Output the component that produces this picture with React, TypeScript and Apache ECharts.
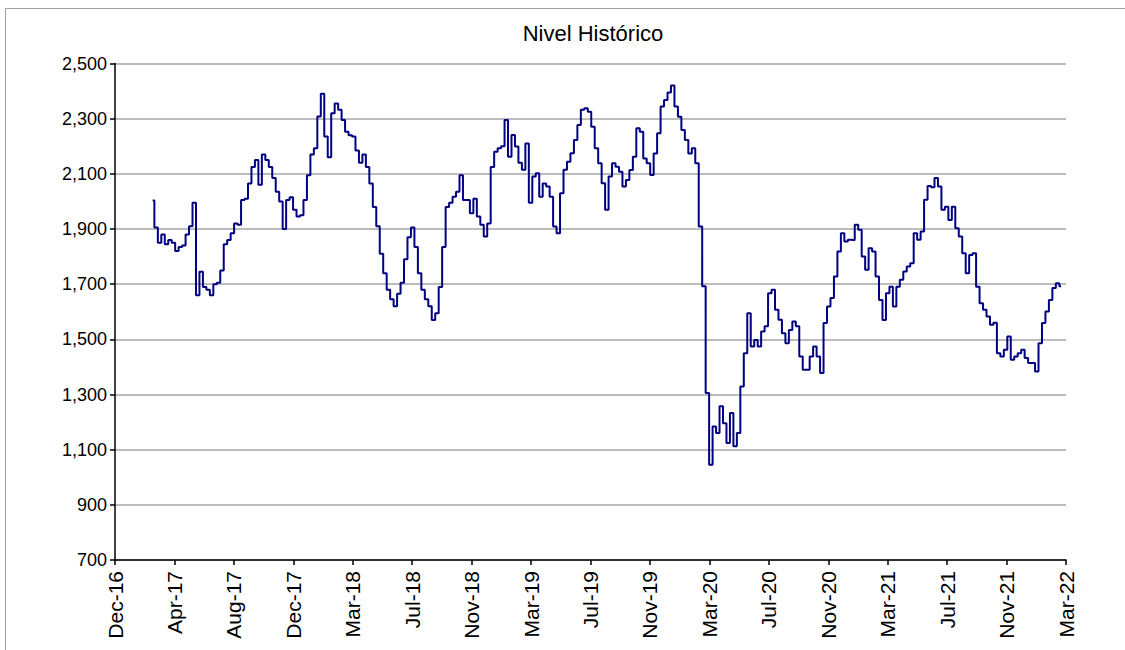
import React, { useEffect, useRef } from "react";
import * as echarts from "echarts";

const chartTitle = "Nivel Histórico";
const xTickLabels = [
  "Dec-16", "Apr-17", "Aug-17", "Dec-17", "Mar-18", "Jul-18", "Nov-18", "Mar-19", "Jul-19",
  "Nov-19", "Mar-20", "Jul-20", "Nov-20", "Mar-21", "Jul-21", "Nov-21", "Mar-22",
];
const daysPerTick = 120;
const yMin = 700;
const yMax = 2500;
const yStep = 200;
// weekly observations, first one 76 days after the Dec-16 axis start
const firstDay = 76;
const stepDays = 7;
const values = [
  2003, 1905, 1850, 1880, 1845, 1860, 1850, 1820, 1835, 1840, 1880, 1910, 1995, 1660, 1745, 1690,
  1680, 1660, 1700, 1705, 1750, 1845, 1860, 1885, 1920, 1915, 2005, 2010, 2065, 2125, 2150, 2060,
  2170, 2150, 2125, 2085, 2035, 2000, 1900, 2005, 2015, 1970, 1945, 1950, 2005, 2095, 2170, 2193,
  2308, 2390, 2235, 2160, 2320, 2355, 2332, 2295, 2253, 2240, 2235, 2185, 2140, 2170, 2125, 2065,
  1980, 1910, 1810, 1740, 1680, 1645, 1620, 1665, 1705, 1790, 1870, 1905, 1835, 1740, 1680, 1645,
  1620, 1570, 1595, 1690, 1835, 1980, 1995, 2017, 2035, 2095, 2005, 2005, 1957, 2010, 1945, 1915,
  1873, 1920, 2125, 2180, 2193, 2200, 2295, 2162, 2241, 2199, 2140, 2115, 2210, 1995, 2090, 2102,
  2017, 2065, 2054, 2017, 1909, 1885, 2030, 2115, 2144, 2175, 2223, 2277, 2332, 2338, 2325, 2271,
  2193, 2138, 2066, 1970, 2090, 2138, 2126, 2108, 2054, 2078, 2114, 2162, 2265, 2253, 2156, 2138,
  2096, 2174, 2247, 2344, 2368, 2395, 2420, 2344, 2307, 2259, 2223, 2174, 2193, 2138, 1909, 1692,
  1305, 1045, 1184, 1160, 1257, 1196, 1124, 1233, 1112, 1160, 1329, 1450, 1595, 1474, 1498, 1474,
  1528, 1547, 1667, 1680, 1607, 1571, 1522, 1486, 1534, 1565, 1547, 1438, 1390, 1390, 1438, 1474,
  1438, 1378, 1559, 1619, 1650, 1728, 1818, 1885, 1855, 1861, 1860, 1915, 1897, 1800, 1752, 1830,
  1818, 1728, 1643, 1570, 1667, 1691, 1619, 1691, 1716, 1746, 1764, 1776, 1885, 1861, 1891, 2006,
  2056, 2051, 2085, 2054, 1970, 1981, 1933, 1981, 1903, 1873, 1812, 1740, 1806, 1812, 1691, 1631,
  1607, 1583, 1553, 1560, 1450, 1438, 1462, 1510, 1426, 1438, 1450, 1462, 1432, 1414, 1414, 1383,
  1486, 1559, 1601, 1643, 1686, 1703, 1692,
];

const FONT = "'Liberation Sans', Arial, sans-serif";

export default function App() {
  const ref = useRef<HTMLDivElement>(null);
  useEffect(() => {
    const chart = echarts.init(ref.current as HTMLDivElement, null, { renderer: "svg" });
    const seriesData = values.map((v, i) => [firstDay + i * stepDays, v]);
    chart.setOption({
      animation: false,
      backgroundColor: "#ffffff",
      title: {
        text: chartTitle,
        left: 588,
        top: 17,
        textAlign: "center",
        textStyle: { fontSize: 22, fontWeight: "normal", color: "#000", fontFamily: FONT },
      },
      graphic: [
        {
          type: "rect",
          shape: { x: 5.5, y: 8.5, width: 1300, height: 800 },
          style: { fill: "none", stroke: "#a0a0a0", lineWidth: 1 },
          silent: true,
          z: -1,
        },
      ],
      grid: { left: 115, right: 59, top: 63.5, bottom: 90, containLabel: false },
      xAxis: {
        type: "value",
        min: 0,
        max: daysPerTick * (xTickLabels.length - 1),
        interval: daysPerTick,
        axisLine: { show: true, onZero: false, lineStyle: { color: "#000", width: 1.5 } },
        axisTick: { show: true, length: 5, lineStyle: { color: "#000", width: 1.5 } },
        splitLine: { show: false },
        axisLabel: {
          rotate: 90,
          margin: 11,
          fontSize: 21,
          color: "#000",
          fontFamily: FONT,
          showMinLabel: true,
          showMaxLabel: true,
          formatter: (v: number) => xTickLabels[Math.round(v / daysPerTick)] ?? "",
        },
      },
      yAxis: {
        type: "value",
        min: yMin,
        max: yMax,
        interval: yStep,
        axisLine: { show: true, lineStyle: { color: "#000", width: 1.5 } },
        axisTick: { show: true, length: 5, lineStyle: { color: "#000", width: 1.5 } },
        splitLine: { show: true, lineStyle: { color: "#a6a6a6", width: 1.5 } },
        axisLabel: {
          margin: 8,
          fontSize: 18,
          color: "#000",
          fontFamily: FONT,
          formatter: (v: number) => v.toLocaleString("en-US"),
        },
      },
      series: [
        {
          type: "line",
          data: seriesData,
          showSymbol: false,
          symbol: "none",
          step: "middle",
          lineStyle: { color: "#000080", width: 2 },
          z: 3,
        },
      ],
    });
    return () => chart.dispose();
  }, []);
  return (
    <div
      ref={ref}
      style={{ position: "absolute", left: 0, top: 0, width: 1125, height: 650 }}
    />
  );
}
